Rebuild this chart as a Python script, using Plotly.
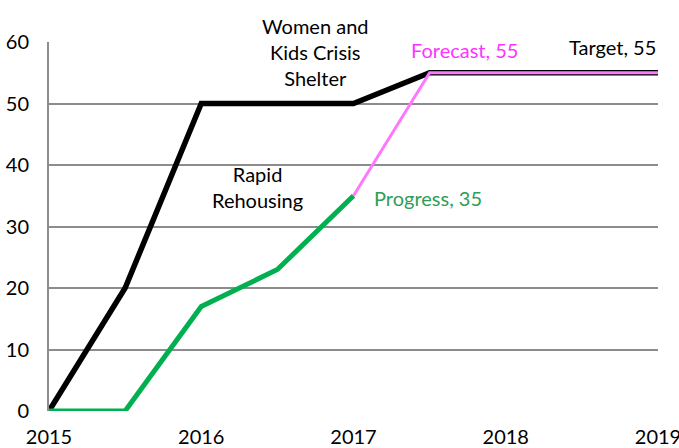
import plotly.graph_objects as go

# Data
shelter_x = [2015, 2015.5, 2016, 2017, 2017.5, 2019]
shelter_y = [0, 20, 50, 50, 55, 55]

progress_x = [2015, 2015.5, 2016, 2016.5, 2017]
progress_y = [0, 0, 17, 23, 35]

forecast_x = [2017, 2017.5, 2019]
forecast_y = [35, 55, 55]

year_ticks = [2015, 2016, 2017, 2018, 2019]
y_ticks = [0, 10, 20, 30, 40, 50, 60]

FONT = "Lato, 'Open Sans', sans-serif"
FS = 20

fig = go.Figure()

fig.add_trace(go.Scatter(x=shelter_x, y=shelter_y, mode='lines', line=dict(color='black', width=5.5),
                         showlegend=False, cliponaxis=False))
fig.add_trace(go.Scatter(x=progress_x, y=progress_y, mode='lines', line=dict(color='#00b050', width=5),
                         showlegend=False, cliponaxis=False))
fig.add_trace(go.Scatter(x=forecast_x, y=forecast_y, mode='lines', line=dict(color='#ff77ff', width=3),
                         showlegend=False, cliponaxis=False))

# Text labels
fig.add_annotation(x=2016.75, y=58.4, text="Women and<br>Kids Crisis<br>Shelter", showarrow=False,
                   font=dict(size=FS, color='black'), align='center', yanchor='middle')
fig.add_annotation(x=2016.37, y=36.5, text="Rapid<br>Rehousing", showarrow=False,
                   font=dict(size=FS, color='black'), align='center')
fig.add_annotation(x=2017.73, y=58.7, text="Forecast, 55", showarrow=False,
                   font=dict(size=FS, color='#ff33ff'))
fig.add_annotation(x=2019, y=59.2, text="Target, 55", showarrow=False, xanchor='right',
                   font=dict(size=FS, color='black'))
fig.add_annotation(x=2017.49, y=34.6, text="Progress, 35", showarrow=False,
                   font=dict(size=FS, color='#2e9e57'))

fig.update_xaxes(range=[2015, 2019], tickvals=year_ticks, showgrid=False, zeroline=False,
                 showline=False, tickfont=dict(size=FS, color='black'), ticks='',
                 ticklabelstandoff=12, ticklabeloverflow='allow', automargin=False)
fig.update_yaxes(range=[0, 60], tickvals=y_ticks, showgrid=True, gridcolor='#8c8c8c', gridwidth=2,
                 zeroline=False, showline=True, linecolor='#8c8c8c', linewidth=2,
                 tickfont=dict(size=FS, color='black'), ticks='', ticklabelstandoff=14,
                 ticklabeloverflow='allow', automargin=False)

fig.update_layout(width=679, height=448, margin=dict(l=49, r=21, t=42, b=37),
                  plot_bgcolor='white', paper_bgcolor='white', font=dict(family=FONT))

# drop the default 8px page margin so the figure fills the window
fig.write_html("out.html", config={'displayModeBar': False},
               post_script="document.body.style.margin='0';document.body.style.overflow='hidden';")
